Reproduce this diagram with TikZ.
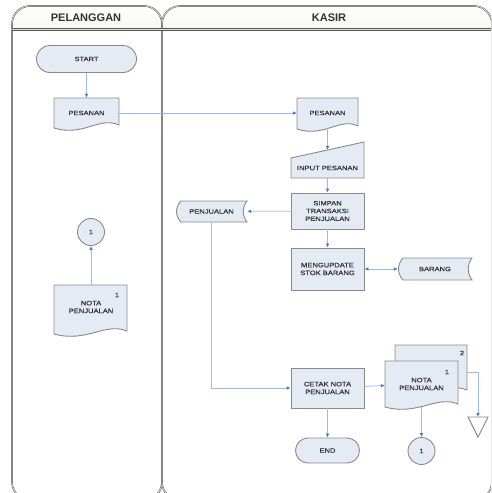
\documentclass[tikz,border=0pt]{standalone}
\usepackage{fontspec}
\setmainfont{Liberation Sans}
\newfontfamily\wideface[FakeStretch=1.2,FakeBold=0.5]{Liberation Sans}
\usetikzlibrary{arrows.meta,calc}

\definecolor{shapefill}{HTML}{E4EBF5}
\definecolor{shapeline}{HTML}{8A8A8A}
\definecolor{flowblue}{HTML}{9DBBE6}
\definecolor{tipblue}{HTML}{3D77CF}
\definecolor{laneline}{HTML}{555555}
\definecolor{headfill}{HTML}{E9E9E2}
\definecolor{ink}{HTML}{333333}

\tikzset{
  box/.style={draw=shapeline, fill=shapefill, line width=0.9pt},
  txt/.style={text=ink, font=\wideface\fontsize{6.3}{7.8}\selectfont, align=center, inner sep=0pt},
  headtxt/.style={text=ink, font=\bfseries\fontsize{11}{12}\selectfont, inner sep=0pt},
  flow/.style={draw=flowblue, line width=0.8pt, -{Latex[length=4pt,width=3.6pt,color=tipblue]}},
  flowboth/.style={draw=flowblue, line width=0.8pt, {Latex[length=4pt,width=3.6pt,color=tipblue]}-{Latex[length=4pt,width=3.6pt,color=tipblue]}},
  lane/.style={draw=laneline, line width=0.45pt, double=white!75!gray, double distance=0.7pt},
}

% document symbol with a wavy base: x1 y1 x2 ybase(right end)
\newcommand\docshape[4]{%
  \path[box] (#1,#2) -- (#3,#2) -- (#3,#4)
    .. controls ({#3-0.3*(#3-#1)},{#4-9}) and ({#1+0.45*(#3-#1)},{#4+12}) .. (#1,{#4+3}) -- cycle;}
% stored data symbol: x1 y1 x2 y2
\newcommand\storedshape[4]{%
  \path[box] ({#1+5},#2) -- (#3,#2)
    .. controls ({#3-5},{#2+0.3*(#4-#2)}) and ({#3-5},{#4-0.3*(#4-#2)}) .. (#3,#4)
    -- ({#1+5},#4)
    .. controls ({#1-1},{#4-0.3*(#4-#2)}) and ({#1-1},{#2+0.3*(#4-#2)}) .. ({#1+5},#2) -- cycle;}

\begin{document}
\begin{tikzpicture}[x=1pt,y=-1pt]
\useasboundingbox (0,0) rectangle (491,493);
\clip (0,0) rectangle (491,493);

% swimlanes
\begin{scope}
  \clip (0,0) rectangle (491,29.5);
  \fill[top color=white, bottom color=headfill, rounded corners=18] (12,6) rectangle (162,60);
  \fill[top color=white, bottom color=headfill, rounded corners=18] (162,6) rectangle (492,60);
\end{scope}
\draw[lane, rounded corners=18] (12,6) rectangle (162,500);
\draw[lane, rounded corners=18] (162,6) rectangle (492,500);
\draw[lane, line width=0.6pt, double distance=1pt] (12,29.5) -- (492,29.5);
\node[headtxt] (hpel) at (86,18) {PELANGGAN};
\node[headtxt] (hkas) at (329,18) {KASIR};

% ---- PELANGGAN ----
\node[box, txt, rounded corners=13.5pt, minimum width=100pt, minimum height=27pt] (start) at (86.5,59) {START};

\docshape{54}{98}{119}{125}
\node[txt, minimum width=65pt, minimum height=30pt] (pes1) at (86.5,113) {PESANAN};

\node[box, txt, circle, minimum size=27pt] (c1) at (91,232) {1};

\docshape{54}{285}{127}{331}
\node[txt, minimum width=73pt, minimum height=44pt] (notaA) at (91,307) {NOTA\\PENJUALAN};
\node[txt] (notaAno) at (117,295) {1};

% ---- KASIR ----
\docshape{297}{98}{358}{126}
\node[txt, minimum width=61pt, minimum height=30pt] (pes2) at (327.5,113) {PESANAN};

\path[box] (291,158) -- (364,142) -- (364,178) -- (291,178) -- cycle;
\node[txt, minimum width=73pt, minimum height=20pt] (inp) at (327.5,168) {INPUT PESANAN};
\coordinate (inptop) at (327.5,150);

\node[box, txt, minimum width=73pt, minimum height=36pt] (simpan) at (327.5,211) {SIMPAN\\TRANSAKSI\\PENJUALAN};

\storedshape{176}{201}{247}{222}
\node[txt, minimum width=71pt, minimum height=21pt] (penj) at (211.5,211.5) {PENJUALAN};

\node[box, txt, minimum width=73pt, minimum height=42pt] (upd) at (327.5,269) {MENGUPDATE\\STOK BARANG};

\storedshape{398}{258}{472}{280}
\node[txt, minimum width=74pt, minimum height=22pt] (barang) at (435,269) {BARANG};

\node[box, txt, minimum width=73pt, minimum height=40pt] (cetak) at (327.5,388) {CETAK NOTA\\PENJUALAN};

% stacked copies of the sales note
\docshape{395}{345}{467}{390}
\node[txt, minimum width=72pt, minimum height=40pt] (nota2) at (431,372) {};
\node[txt] (nota2no) at (462,353) {2};
\docshape{385}{361}{458}{404}
\node[txt, minimum width=73pt, minimum height=46pt] (nota1) at (421.5,384) {NOTA\\PENJUALAN};
\node[txt] (nota1no) at (447,372) {1};

\node[box, txt, rounded corners=12.5pt, minimum width=64pt, minimum height=25pt] (fin) at (327.5,450.5) {END};
\node[box, txt, circle, minimum size=27pt] (c2) at (421.5,451) {1};

% off-page file symbol
\path[draw=shapeline, fill=white, line width=0.9pt] (468,417) -- (488,417) -- (478,437) -- cycle;
\coordinate (offp) at (478,417);

% ---- connectors ----
\draw[flow] (start) -- (pes1);
\draw[flow] (pes1) -- (pes2);
\draw[flow] (notaA) -- (c1);
\draw[flow] (pes2.south) -- (inptop);
\draw[flow] (inp) -- (simpan);
\draw[flow] (simpan) -- (penj);
\draw[flow] (simpan) -- (upd);
\draw[flowboth] (upd) -- (barang);
\draw[flow] (penj.south) |- (cetak.west);
\draw[flow] (cetak) -- (nota1);
\draw[flow] (cetak) -- (fin);
\draw[flow] (nota1.south) -- (c2);
\draw[flow] (nota2.east) -| (offp);
\end{tikzpicture}
\end{document}
